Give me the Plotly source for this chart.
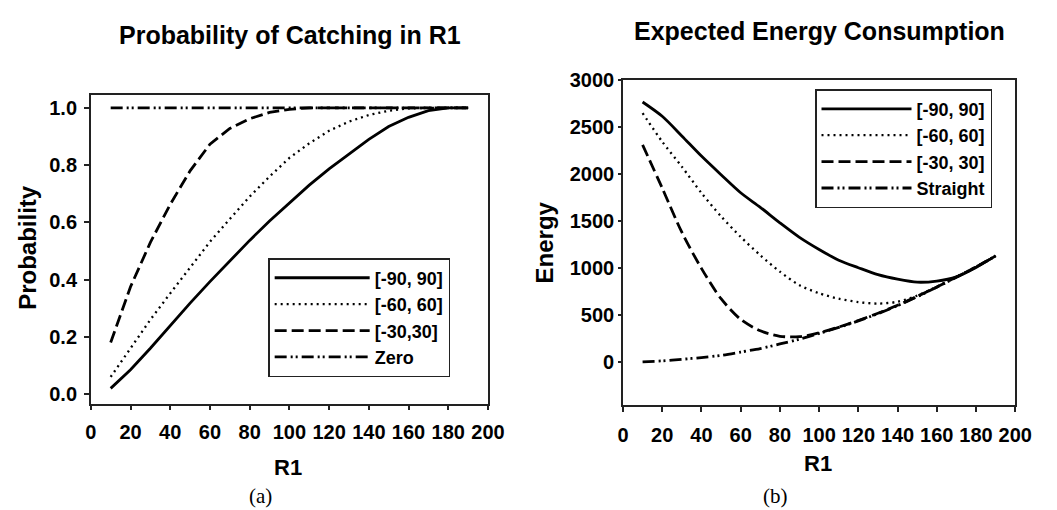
import plotly.graph_objects as go

# ---------------- data ----------------
r1 = [10, 20, 30, 40, 50, 60, 70, 80, 90, 100, 110, 120, 130, 140, 150, 160, 170, 180, 190]

prob_90 = [0.02, 0.085, 0.16, 0.24, 0.318, 0.393, 0.466, 0.537, 0.605, 0.668, 0.73, 0.787, 0.84,
           0.89, 0.935, 0.967, 0.99, 1.0, 1.0]
prob_60 = [0.06, 0.162, 0.26, 0.352, 0.44, 0.532, 0.612, 0.69, 0.76, 0.825, 0.876, 0.92, 0.952,
           0.975, 0.99, 0.998, 1.0, 1.0, 1.0]
prob_30 = [0.18, 0.375, 0.53, 0.663, 0.78, 0.873, 0.928, 0.962, 0.984, 0.995, 1.0, 1.0, 1.0,
           1.0, 1.0, 1.0, 1.0, 1.0, 1.0]
prob_zero = [1.0] * 19

energy_90 = [2766, 2614, 2405, 2190, 1992, 1800, 1645, 1480, 1325, 1196, 1082, 1002, 928,
             880, 848, 860, 905, 1005, 1128]
energy_60 = [2648, 2344, 2078, 1798, 1549, 1330, 1135, 960, 815, 730, 672, 636, 620,
             640, 705, 800, 905, 1010, 1128]
energy_30 = [2310, 1850, 1380, 995, 672, 452, 330, 272, 268, 308, 370, 440, 517,
             602, 697, 797, 902, 1010, 1128]
energy_straight = [0, 10, 27, 45, 69, 104, 141, 190, 242, 302, 366, 436, 513,
                   598, 693, 795, 900, 1010, 1128]

x_ticks = [0, 20, 40, 60, 80, 100, 120, 140, 160, 180, 200]
prob_ticks = [0.0, 0.2, 0.4, 0.6, 0.8, 1.0]
energy_ticks = [0, 500, 1000, 1500, 2000, 2500, 3000]

left_names = ["[-90, 90]", "[-60, 60]", "[-30,30]", "Zero"]
right_names = ["[-90, 90]", "[-60, 60]", "[-30, 30]", "Straight"]

# ---------------- styles ----------------
W, H = 1057, 510
FONT = "Liberation Sans, Arial, sans-serif"
styles = [
    dict(color="black", width=2.8, dash="solid"),
    dict(color="black", width=2.3, dash="2px,4px"),
    dict(color="black", width=2.8, dash="12px,5px"),
    dict(color="black", width=2.8, dash="12px,4px,2px,3px,2px,4px"),
]

fig = go.Figure()

for i, (name, ys) in enumerate(zip(left_names, [prob_90, prob_60, prob_30, prob_zero])):
    fig.add_trace(go.Scatter(x=r1, y=ys, mode="lines", name=name, line=styles[i],
                             xaxis="x", yaxis="y", legend="legend", legendgroup="l%d" % i))

for i, (name, ys) in enumerate(zip(right_names, [energy_90, energy_60, energy_30, energy_straight])):
    fig.add_trace(go.Scatter(x=r1, y=ys, mode="lines", name=name,
                             line=dict(styles[i], shape="spline", smoothing=0.8),
                             xaxis="x2", yaxis="y2", legend="legend2", legendgroup="r%d" % i))

def px_x(p):
    return p / W

def px_y(p):
    return 1 - p / H

axis_common = dict(showline=True, linecolor="#222", linewidth=1.5, mirror=True,
                   showgrid=False, zeroline=False, ticks="outside", ticklen=5,
                   tickwidth=1.5, tickcolor="#222",
                   tickfont=dict(family=FONT, size=20, color="black", weight="bold"))

legend_font = dict(family=FONT, size=18, color="black", weight="bold")

fig.update_layout(
    width=W, height=H,
    margin=dict(l=0, r=0, t=0, b=0),
    paper_bgcolor="white", plot_bgcolor="white",
    xaxis=dict(domain=[px_x(86.7), px_x(492.7)], range=[0, 200], tickvals=x_ticks,
               anchor="y", ticklabelstandoff=5, **axis_common),
    yaxis=dict(domain=[px_y(402), px_y(86)], range=[-0.033, 1.045], tickvals=prob_ticks,
               tickformat=".1f", anchor="x", ticklabelstandoff=3, **axis_common),
    xaxis2=dict(domain=[px_x(630.7), px_x(1031.7)], range=[0, 200], tickvals=x_ticks,
                anchor="y2", ticklabelstandoff=6, **axis_common),
    yaxis2=dict(domain=[px_y(404), px_y(70.7)], range=[-465, 3000], tickvals=energy_ticks,
                anchor="x2", **{**axis_common, "ticklen": 3}),
    legend=dict(x=px_x(268), y=px_y(253), xanchor="left", yanchor="top",
                bgcolor="white", bordercolor="#222", borderwidth=1.5,
                font=legend_font, traceorder="normal", tracegroupgap=1, itemwidth=95),
    legend2=dict(x=px_x(827), y=px_y(80), xanchor="left", yanchor="top",
                 bgcolor="white", bordercolor="#222", borderwidth=1.5,
                 font=legend_font, traceorder="normal", tracegroupgap=3, itemwidth=90),
    showlegend=True,
)

def ann(text, x, y, size, family=FONT, weight="bold", angle=0):
    fig.add_annotation(text=text, x=px_x(x), y=px_y(y), xref="paper", yref="paper",
                       xanchor="center", yanchor="middle", showarrow=False, textangle=angle,
                       font=dict(family=family, size=size, color="black", weight=weight))

ann("Probability of Catching in R1", 290, 25, 25)
ann("Expected Energy Consumption", 832, 20, 25)
ann("Probability", 22, 242, 24, angle=-90)
ann("Energy", 550, 237, 24, angle=-90)
ann("R1", 288, 468, 22)
ann("R1", 830, 463, 22)
ann("(a)", 260, 497, 21, family="Liberation Serif, Times New Roman, serif", weight="normal")
ann("(b)", 787, 497, 21, family="Liberation Serif, Times New Roman, serif", weight="normal")

fig.write_html("out.html")
